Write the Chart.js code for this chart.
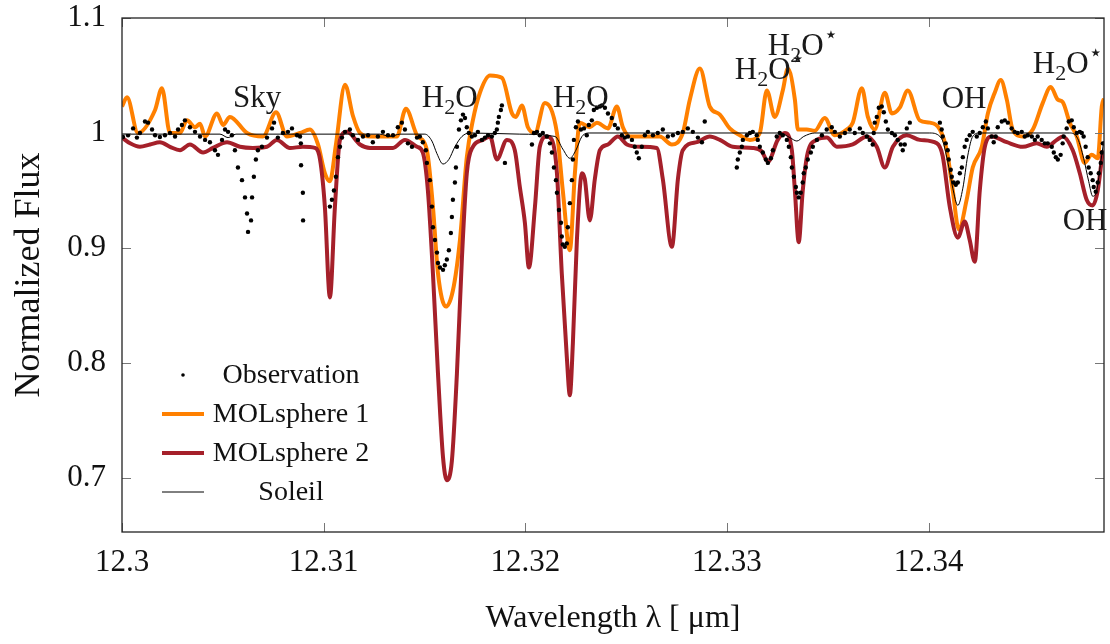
<!DOCTYPE html>
<html>
<head>
<meta charset="utf-8">
<script src="https://cdn.jsdelivr.net/npm/chart.js@4/dist/chart.umd.min.js"></script>
<style>
  body { margin: 0; background: #fff; }
  #wrap { width: 1110px; height: 644px; }
</style>
</head>
<body>
<div id="wrap"><canvas id="spectrum" width="1110" height="644"></canvas></div>
<script>
// axis ticks
const xTickValues = [12.3, 12.31, 12.32, 12.33, 12.34];
const xTickLabels = ['12.3', '12.31', '12.32', '12.33', '12.34'];
const yTickValues = [0.7, 0.8, 0.9, 1, 1.1];
const yTickLabels = ['0.7', '0.8', '0.9', '1', '1.1'];

// observation (dots)
const obsWave = [12.30005,12.30030,12.30055,12.30074,12.30089,12.30114,12.30129,12.30149,12.30164,12.30188,
  12.30213,12.30238,12.30263,12.30278,12.30297,12.30312,12.30337,12.30362,12.30387,12.30412,
  12.30436,12.30461,12.30476,12.30496,12.30511,12.30526,12.30545,12.30560,12.30575,12.30595,
  12.30610,12.30620,12.30625,12.30640,12.30645,12.30654,12.30664,12.30674,12.30694,12.30719,
  12.30744,12.30754,12.30773,12.30798,12.30823,12.30843,12.30868,12.30883,12.30887,12.30888,
  12.30897,12.30898,
  12.31031,12.31041,12.31051,12.31061,12.31071,12.31081,12.31091,12.31106,12.31130,12.31145,
  12.31170,12.31195,12.31220,12.31244,12.31269,12.31294,12.31319,12.31344,12.31368,12.31388,
  12.31403,12.31418,12.31438,12.31463,12.31477,12.31492,12.31507,12.31512,12.31527,12.31537,
  12.31542,12.31552,12.31562,12.31567,12.31577,12.31592,12.31601,12.31611,12.31621,12.31631,
  12.31636,12.31641,12.31651,12.31656,12.31661,12.31671,12.31681,12.31691,12.31701,12.31710,
  12.31720,12.31735,12.31750,12.31765,12.31785,12.31800,12.31815,12.31834,12.31849,12.31859,
  12.31864,12.31869,12.31879,12.31884,12.31899,
  12.32033,12.32043,12.32058,12.32072,12.32087,12.32107,12.32122,12.32132,12.32142,12.32152,
  12.32157,12.32167,12.32177,12.32181,12.32186,12.32196,12.32206,12.32211,12.32221,12.32231,
  12.32236,12.32241,12.32251,12.32261,12.32276,12.32291,12.32305,12.32315,12.32330,12.32340,
  12.32355,12.32370,12.32380,12.32395,12.32410,12.32429,12.32444,12.32459,12.32479,12.32494,
  12.32509,12.32529,12.32543,12.32553,12.32563,12.32578,12.32593,12.32608,12.32633,12.32657,
  12.32682,12.32707,12.32732,12.32757,12.32781,12.32806,12.32831,12.32856,12.32876,12.32890,
  12.33049,12.33054,12.33064,12.33074,12.33079,12.33099,12.33114,12.33128,12.33148,12.33153,
  12.33163,12.33178,12.33193,12.33203,12.33218,12.33228,12.33247,12.33262,12.33277,12.33297,
  12.33307,12.33317,12.33322,12.33332,12.33342,12.33347,12.33356,12.33366,12.33376,12.33381,
  12.33391,12.33401,12.33416,12.33426,12.33446,12.33471,12.33495,12.33520,12.33535,12.33560,
  12.33585,12.33609,12.33634,12.33659,12.33674,12.33694,12.33708,12.33723,12.33728,12.33733,
  12.33743,12.33753,12.33768,12.33778,12.33788,12.33798,12.33818,12.33833,12.33847,12.33862,
  12.33872,12.33882,12.33892,12.33907,
  12.34056,12.34065,12.34070,12.34085,12.34095,12.34100,12.34110,12.34115,12.34125,12.34135,
  12.34145,12.34155,12.34165,12.34170,12.34179,12.34189,12.34204,12.34219,12.34239,12.34254,
  12.34269,12.34284,12.34294,12.34313,12.34323,12.34333,12.34343,12.34363,12.34378,12.34393,
  12.34412,12.34427,12.34442,12.34462,12.34477,12.34492,12.34512,12.34527,12.34541,12.34561,
  12.34576,12.34591,12.34611,12.34621,12.34631,12.34641,12.34655,12.34665,12.34670,12.34685,
  12.34695,12.34710,12.34720,12.34735,12.34750,12.34760,12.34769,12.34779,12.34789,12.34794,
  12.34804,12.34814,12.34819,12.34829,12.34839,12.34844,12.34854,12.34859,12.34864];
const obsFlux = [0.9965,0.998,1.004,0.996,1.0,1.010,1.009,1.003,0.998,0.9965,
  0.998,1.0,0.997,1.003,1.007,1.011,1.005,1.001,0.997,0.994,
  0.992,0.985,0.981,0.994,1.003,1.001,0.998,0.985,0.970,0.959,
  0.944,0.930,0.914,0.924,0.944,0.962,0.977,0.985,0.988,0.996,
  1.004,1.009,0.996,1.0,1.001,1.004,0.998,0.997,0.991,0.972,
  0.948,0.924,
  0.936,0.942,0.950,0.962,0.979,0.988,0.996,1.001,1.003,0.998,
  0.994,0.997,0.998,0.992,0.997,1.001,0.998,0.998,1.005,1.009,
  1.003,0.991,0.988,0.996,0.997,0.992,0.985,0.974,0.959,0.936,
  0.918,0.907,0.896,0.887,0.883,0.881,0.885,0.890,0.898,0.913,
  0.927,0.942,0.957,0.970,0.988,1.003,1.011,1.016,1.013,1.005,
  1.0,0.997,0.998,1.001,0.994,0.996,0.998,0.997,1.0,1.003,
  1.009,1.014,1.020,1.024,0.974,
  0.990,1.0,1.001,0.998,1.0,0.997,0.991,0.983,0.970,0.959,
  0.948,0.933,0.922,0.910,0.903,0.901,0.904,0.918,0.939,0.959,
  0.977,0.994,1.005,1.010,1.003,1.004,0.998,1.007,1.011,1.020,
  1.022,1.023,1.024,1.022,1.017,1.013,1.007,1.004,0.998,0.996,
  0.997,0.994,0.988,0.983,0.978,0.988,0.998,1.001,0.998,1.0,
  1.003,0.997,0.998,1.0,1.001,1.004,1.001,0.996,0.992,1.010,
  0.970,0.977,0.983,0.988,0.994,0.998,1.0,1.001,0.998,0.994,
  0.988,0.983,0.977,0.974,0.978,0.985,0.997,1.0,0.998,0.994,
  0.988,0.979,0.970,0.962,0.953,0.948,0.944,0.948,0.957,0.965,
  0.970,0.977,0.983,0.988,0.994,0.998,1.003,1.005,1.001,0.997,
  1.0,1.003,1.0,1.004,1.0,0.997,0.994,0.990,1.0,1.009,
  1.014,1.022,1.023,1.018,1.010,1.003,1.0,0.998,0.994,0.990,
  0.985,0.990,1.004,1.009,
  1.009,1.003,0.997,0.991,0.985,0.977,0.968,0.962,0.957,0.955,
  0.957,0.965,0.970,0.979,0.988,0.994,0.998,1.001,0.997,1.0,
  1.005,1.010,1.004,0.997,0.992,0.997,1.005,1.010,1.011,1.009,
  1.004,1.001,1.0,1.001,0.997,0.998,0.997,0.994,0.997,0.994,
  0.991,0.991,0.988,0.983,0.979,0.977,0.981,0.991,0.997,1.004,
  1.010,1.011,1.005,1.0,1.001,1.0,0.997,0.988,0.979,0.970,
  0.965,0.959,0.953,0.949,0.957,0.965,0.974,0.983,0.991];

// MOLsphere 1 (orange)
const mol1Wave = [12.30000,12.30025,12.30079,12.30164,12.30198,12.30238,12.30288,12.30322,12.30362,12.30387,
  12.30412,12.30471,12.30501,12.30535,12.30620,12.30699,12.30764,12.30818,12.30883,12.30932,
  12.30972,12.31006,12.31031,12.31061,12.31106,12.31145,12.31180,12.31230,12.31363,12.31408,
  12.31463,12.31512,12.31542,12.31567,12.31606,12.31641,12.31676,12.31710,12.31740,12.31775,
  12.31825,12.31884,12.31934,12.31953,12.31983,12.32013,12.32048,12.32097,12.32157,12.32186,
  12.32221,12.32246,12.32271,12.32320,12.32355,12.32410,12.32454,12.32484,12.32519,12.32667,
  12.32727,12.32781,12.32816,12.32866,12.32915,12.32965,12.33014,12.33064,12.33114,12.33163,
  12.33198,12.33237,12.33277,12.33302,12.33337,12.33352,12.33396,12.33436,12.33485,12.33535,
  12.33594,12.33624,12.33669,12.33699,12.33733,12.33783,12.33818,12.33857,12.33897,12.33956,
  12.34006,12.34056,12.34090,12.34120,12.34150,12.34189,12.34219,12.34264,12.34294,12.34328,
  12.34358,12.34388,12.34417,12.34467,12.34517,12.34566,12.34606,12.34641,12.34665,12.34700,
  12.34735,12.34774,12.34809,12.34839,12.34859,12.34870];
const mol1Flux = [1.023,1.031,1.0,1.02,1.039,1.0,1.0,1.011,1.005,1.008,
  0.997,1.017,1.007,1.014,1.0,0.997,1.018,0.997,1.0,1.003,
  0.99,0.965,0.958,0.99,1.042,1.015,1.0,0.997,0.997,1.021,
  0.998,0.985,0.936,0.878,0.849,0.863,0.907,0.979,1.011,1.035,
  1.05,1.048,1.017,1.014,1.024,1.005,1.0,1.026,1.0,0.95,
  0.898,0.965,1.009,1.005,1.009,1.004,1.023,1.005,0.997,0.997,
  0.99,1.0,1.029,1.056,1.023,1.016,1.004,0.998,0.994,1.0,
  1.037,1.014,1.037,1.056,1.029,1.003,1.003,1.002,1.013,0.998,
  1.003,1.009,1.039,1.014,1.003,1.035,1.017,1.022,1.037,1.011,
  1.009,1.003,0.985,0.95,0.916,0.942,0.970,0.988,1.017,1.035,
  1.046,1.029,1.003,0.997,1.003,1.026,1.040,1.029,1.027,1.009,
  0.997,0.974,0.981,0.978,1.023,1.03];

// MOLsphere 2 (dark red)
const mol2Wave = [12.30000,12.30040,12.30089,12.30139,12.30188,12.30238,12.30288,12.30337,12.30402,12.30451,
  12.30521,12.30585,12.30649,12.30719,12.30768,12.30833,12.30897,12.30957,12.30982,12.31006,
  12.31031,12.31056,12.31081,12.31116,12.31180,12.31230,12.31344,12.31403,12.31463,12.31492,
  12.31517,12.31542,12.31567,12.31592,12.31611,12.31636,12.31661,12.31686,12.31710,12.31740,
  12.31790,12.31825,12.31859,12.31909,12.31948,12.31973,12.31998,12.32018,12.32048,12.32072,
  12.32107,12.32132,12.32157,12.32181,12.32206,12.32221,12.32236,12.32256,12.32281,12.32295,
  12.32320,12.32345,12.32370,12.32410,12.32459,12.32504,12.32568,12.32652,12.32682,12.32727,
  12.32757,12.32781,12.32851,12.32915,12.32965,12.33029,12.33128,12.33173,12.33203,12.33252,
  12.33287,12.33322,12.33337,12.33356,12.33376,12.33401,12.33446,12.33495,12.33545,12.33624,
  12.33694,12.33743,12.33783,12.33823,12.33892,12.33956,12.34041,12.34070,12.34105,12.34145,
  12.34179,12.34204,12.34229,12.34254,12.34279,12.34313,12.34388,12.34467,12.34536,12.34586,
  12.34636,12.34665,12.34715,12.34750,12.34784,12.34814,12.34839,12.34864];
const mol2Flux = [0.996,0.991,0.988,0.99,0.992,0.988,0.985,0.99,0.983,0.987,
  0.992,0.988,0.987,0.988,0.994,0.987,0.988,0.987,0.977,0.936,
  0.857,0.936,0.994,1.001,0.99,0.987,0.987,0.994,0.988,0.983,
  0.95,0.878,0.791,0.718,0.698,0.715,0.791,0.892,0.965,0.988,
  0.994,0.997,0.977,0.994,0.985,0.953,0.922,0.883,0.936,0.988,
  0.997,0.994,0.965,0.878,0.805,0.772,0.817,0.907,0.965,0.96,
  0.924,0.96,0.985,0.99,0.997,0.99,0.988,0.987,0.96,0.901,
  0.96,0.985,0.992,0.997,0.994,0.988,0.987,0.984,0.975,0.994,
  1.0,0.985,0.950,0.905,0.950,0.983,0.994,0.996,0.988,0.99,
  0.997,0.988,0.970,0.988,0.998,0.994,0.991,0.98,0.936,0.909,
  0.923,0.907,0.888,0.95,0.988,0.997,0.992,0.988,0.991,0.988,
  0.994,0.997,0.985,0.965,0.942,0.937,0.95,0.985];

// Soleil (thin black)
const solWave = [12.30000,12.30486,12.30526,12.30565,12.31279,12.31329,12.31378,12.31502,12.31537,12.31562,
  12.31592,12.31621,12.31651,12.31686,12.31725,12.31973,12.32147,12.32186,12.32221,12.32251,
  12.32281,12.32320,12.33262,12.33312,12.33347,12.33381,12.33436,12.34006,12.34065,12.34095,
  12.34120,12.34145,12.34170,12.34194,12.34219,12.34254,12.34700,12.34740,12.34769,12.34794,
  12.34814,12.34834,12.34854,12.34869];
const solFlux = [0.999,0.999,0.996,0.999,0.999,0.997,0.999,0.999,0.993,0.982,
  0.973,0.977,0.988,0.997,1.0,0.999,0.997,0.986,0.978,0.985,
  0.997,1.0,1.0,0.996,0.993,0.997,1.0,1.0,0.995,0.975,
  0.952,0.937,0.952,0.98,0.997,1.0,1.0,0.995,0.978,0.958,
  0.945,0.95,0.975,0.993];

// line identifications: text, left wavelength, baseline flux
const annoText = ['Sky', 'H2O', 'H2O', 'H2O*', 'H2O*', 'OH', 'H2O*', 'OH'];
const annoWave = [12.30550, 12.31487, 12.32137, 12.33039, 12.33203, 12.34065, 12.34517, 12.34665];
const annoFlux = [1.0226, 1.0226, 1.0226, 1.0470, 1.0678, 1.0217, 1.0522, 0.9157];

function toPoints(xs, ys) {
    return xs.map(function (x, i) { return { x: x, y: ys[i] }; });
}

const serif = '"Liberation Serif", "DejaVu Serif", serif';

// frame with inward tick marks, like pgfplots
const framePlugin = {
    id: 'frame',
    afterDraw: function (chart) {
        const ctx = chart.ctx;
        const a = chart.chartArea;
        const xs = chart.scales.x, ys = chart.scales.y;
        ctx.save();
        ctx.strokeStyle = '#777';
        ctx.lineWidth = 1;
        ctx.beginPath();
        xTickValues.forEach(function (v) {
            const px = Math.round(xs.getPixelForValue(v)) + 0.5;
            ctx.moveTo(px, a.bottom); ctx.lineTo(px, a.bottom - 9);
            ctx.moveTo(px, a.top); ctx.lineTo(px, a.top + 9);
        });
        yTickValues.forEach(function (v) {
            const py = Math.round(ys.getPixelForValue(v)) + 0.5;
            ctx.moveTo(a.left, py); ctx.lineTo(a.left + 9, py);
            ctx.moveTo(a.right, py); ctx.lineTo(a.right - 9, py);
        });
        ctx.stroke();
        ctx.strokeStyle = '#222';
        ctx.lineWidth = 1.3;
        ctx.strokeRect(a.left, a.top, a.right - a.left, a.bottom - a.top);
        ctx.restore();
    }
};

// H2O style labels with subscript digit and superscript star
function drawChem(ctx, text, x, y, size) {
    const parts = [];
    for (const ch of text) {
        if (ch === '2') parts.push({ t: '2', f: Math.round(size * 0.7) + 'px ' + serif, dy: size * 0.22 });
        else if (ch === '*') parts.push({ t: '\u22c6', f: Math.round(size * 0.75) + 'px "DejaVu Sans", sans-serif', dy: -size * 0.42 });
        else parts.push({ t: ch, f: size + 'px ' + serif, dy: 0 });
    }
    let cx = x;
    parts.forEach(function (p) {
        ctx.font = p.f;
        ctx.fillText(p.t, cx, y + p.dy);
        cx += ctx.measureText(p.t).width;
    });
}

const labelPlugin = {
    id: 'lineLabels',
    afterDraw: function (chart) {
        const ctx = chart.ctx;
        const xs = chart.scales.x, ys = chart.scales.y;
        ctx.save();
        ctx.fillStyle = '#1a1a1a';
        ctx.textAlign = 'left';
        ctx.textBaseline = 'alphabetic';
        annoText.forEach(function (t, i) {
            drawChem(ctx, t, xs.getPixelForValue(annoWave[i]), ys.getPixelForValue(annoFlux[i]), 31);
        });
        ctx.restore();
    }
};

// pgfplots-like legend inside the axes
const legendPlugin = {
    id: 'innerLegend',
    afterDraw: function (chart) {
        const ctx = chart.ctx;
        const rows = [375, 414, 453, 492];
        ctx.save();
        ctx.font = '28px ' + serif;
        ctx.textAlign = 'center';
        ctx.textBaseline = 'middle';
        chart.data.datasets.forEach(function (ds, i) {
            const y = rows[i];
            if (ds.showLine === false) {
                ctx.fillStyle = '#000';
                ctx.beginPath();
                ctx.arc(183, y, 1.8, 0, Math.PI * 2);
                ctx.fill();
            } else {
                ctx.strokeStyle = ds.borderColor;
                ctx.lineWidth = ds.borderWidth;
                ctx.beginPath();
                ctx.moveTo(162, y); ctx.lineTo(204, y);
                ctx.stroke();
            }
            ctx.fillStyle = '#111';
            ctx.fillText(ds.label, 291, y + 1);
        });
        ctx.restore();
    }
};

new Chart(document.getElementById('spectrum'), {
    type: 'line',
    data: {
        datasets: [{
            label: 'Observation',
            data: toPoints(obsWave, obsFlux),
            showLine: false,
            pointRadius: 2.2,
            pointBorderWidth: 0,
            pointBackgroundColor: '#000',
            borderColor: '#000',
            order: 0
        }, {
            label: 'MOLsphere 1',
            data: toPoints(mol1Wave, mol1Flux),
            borderColor: '#ff8000',
            borderWidth: 4,
            pointRadius: 0,
            cubicInterpolationMode: 'monotone',
            order: 3
        }, {
            label: 'MOLsphere 2',
            data: toPoints(mol2Wave, mol2Flux),
            borderColor: '#a5202a',
            borderWidth: 4,
            pointRadius: 0,
            cubicInterpolationMode: 'monotone',
            order: 2
        }, {
            label: 'Soleil',
            data: toPoints(solWave, solFlux),
            borderColor: '#000',
            borderWidth: 1,
            pointRadius: 0,
            cubicInterpolationMode: 'monotone',
            order: 1
        }]
    },
    options: {
        responsive: false,
        animation: false,
        layout: { padding: { top: 18, right: 6, left: 0, bottom: 0 } },
        scales: {
            x: {
                type: 'linear',
                min: 12.3,
                max: 12.3487,
                grid: { display: false, drawTicks: false },
                border: { display: false },
                afterBuildTicks: function (s) { s.ticks = xTickValues.map(function (v) { return { value: v }; }); },
                afterFit: function (s) { s.height = 112; s.paddingLeft = 0; s.paddingRight = 0; },
                ticks: {
                    padding: 12,
                    color: '#111',
                    font: { family: serif, size: 31 },
                    maxRotation: 0,
                    callback: function (v, i) { return xTickLabels[i]; }
                },
                title: {
                    display: true,
                    text: 'Wavelength \u03bb [ \u03bcm]',
                    color: '#111',
                    font: { family: serif, size: 32 },
                    padding: { top: 0, bottom: 6 }
                }
            },
            y: {
                min: 0.653,
                max: 1.1,
                grid: { display: false, drawTicks: false },
                border: { display: false },
                afterBuildTicks: function (s) { s.ticks = yTickValues.map(function (v) { return { value: v }; }); },
                afterFit: function (s) { s.width = 122; s.paddingTop = 0; s.paddingBottom = 0; },
                ticks: {
                    padding: 16,
                    color: '#111',
                    font: { family: serif, size: 31 },
                    callback: function (v, i) { return yTickLabels[i]; }
                },
                title: {
                    display: true,
                    text: 'Normalized Flux',
                    color: '#111',
                    font: { family: serif, size: 36 },
                    padding: { top: 8, bottom: 0 }
                }
            }
        },
        plugins: {
            legend: { display: false },
            tooltip: { enabled: false }
        }
    },
    plugins: [framePlugin, labelPlugin, legendPlugin]
});
</script>
</body>
</html>
